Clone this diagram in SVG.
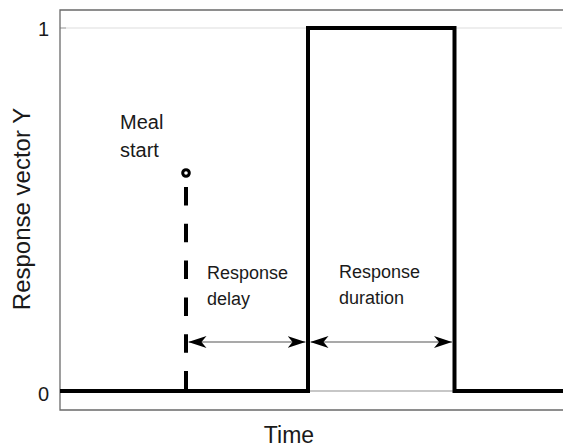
<svg xmlns="http://www.w3.org/2000/svg" width="563" height="447" viewBox="0 0 563 447">
<style>
text{font-family:"Liberation Sans",Arial,sans-serif;fill:#1a1a1a}
.tick{font-size:20px;text-anchor:end}
.lab{font-size:23px;text-anchor:middle}
.ann{font-size:18px}
.sig{fill:none;stroke:#000;stroke-width:4;stroke-linejoin:miter}
.dim{stroke:#555;stroke-width:1.2;fill:none}
</style>
<defs>
<marker id="ah" viewBox="0 0 18 12" refX="18" refY="6" markerWidth="18" markerHeight="12" markerUnits="userSpaceOnUse" orient="auto-start-reverse">
<path d="M0,0 L18,6 L0,12 L5,6 Z" fill="#000"/>
</marker>
</defs>
<g id="axes">
<line x1="60" y1="28" x2="562" y2="28" stroke="#e8e8e8" stroke-width="1.5"/>
<line x1="60" y1="391" x2="562" y2="391" stroke="#b5b5b5" stroke-width="1.5"/>
<line x1="60" y1="28" x2="66" y2="28" stroke="#bbb" stroke-width="1.5"/>
<path d="M564,10 H60 V410 H564" fill="none" stroke="#6a6a6a" stroke-width="1.3"/>
<text class="tick" x="49" y="36">1</text>
<text class="tick" x="49" y="401">0</text>
<text class="lab" x="289" y="443">Time</text>
<text class="lab" style="font-size:24px" transform="translate(30,209) rotate(-90)">Response vector Y</text>
</g>
<g id="signal">
<path class="sig" d="M60,391 H308 V28 H454.5 V391 H563"/>
</g>
<g id="meal-start">
<line x1="186" y1="187" x2="186" y2="391" stroke="#000" stroke-width="4" stroke-dasharray="18.5 18.3"/>
<circle cx="186" cy="173" r="3.3" fill="#fff" stroke="#000" stroke-width="3"/>
<text class="ann" style="font-size:20px" x="120" y="129">Meal</text>
<text class="ann" style="font-size:20px" x="120" y="157">start</text>
</g>
<g id="connectors">
<line class="dim" x1="188.5" y1="342" x2="305.5" y2="342" marker-start="url(#ah)" marker-end="url(#ah)"/>
<line class="dim" x1="310.5" y1="342" x2="452" y2="342" marker-start="url(#ah)" marker-end="url(#ah)"/>
</g>
<g id="response-delay">
<text class="ann" x="207" y="279">Response</text>
<text class="ann" x="207" y="305">delay</text>
</g>
<g id="response-duration">
<text class="ann" x="339" y="278">Response</text>
<text class="ann" x="339" y="304">duration</text>
</g>
</svg>
